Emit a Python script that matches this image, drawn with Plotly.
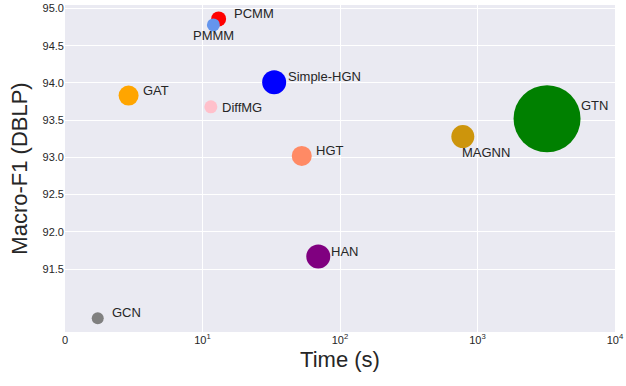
import numpy as np
import plotly.graph_objects as go

models = ["PCMM", "PMMM", "GAT", "DiffMG", "Simple-HGN", "HGT", "HAN", "GCN", "MAGNN", "GTN"]
times = [13.1, 12.0, 2.9, 11.5, 33.2, 52.7, 69.5, 1.73, 782, 3205]
f1 = [94.86, 94.78, 93.83, 93.68, 94.01, 93.02, 91.67, 90.84, 93.28, 93.52]
bubble = [15, 13, 20, 13, 24, 20, 24, 12, 23, 67]
colors = ["#FF0000", "#6495ED", "#FFA500", "#FFC0CB", "#0000FF", "#FF8A65",
          "#800080", "#808080", "#CD950C", "#008000"]
# label offsets (px): xshift, yshift, xanchor
offsets = {
    "PCMM": (13, 5, "left"),
    "PMMM": (0, -11, "center"),
    "GAT": (12, 5, "left"),
    "DiffMG": (9, -1, "left"),
    "Simple-HGN": (12, 6, "left"),
    "HGT": (12, 5, "left"),
    "HAN": (11, 5, "left"),
    "GCN": (12, 6, "left"),
    "MAGNN": (-3, -16, "left"),
    "GTN": (32, 13, "left"),
}

x_tickvals = [1, 10, 100, 1000, 10000]
x_ticktext = ["0", "10<sup>1</sup>", "10<sup>2</sup>", "10<sup>3</sup>", "10<sup>4</sup>"]
y_tickvals = [91.5, 92.0, 92.5, 93.0, 93.5, 94.0, 94.5, 95.0]

fig = go.Figure()
fig.add_trace(go.Scatter(
    x=times, y=f1, mode="markers",
    marker=dict(size=bubble, color=colors, opacity=1, line=dict(width=0)),
    showlegend=False, hoverinfo="text", text=models,
))

for m, t, v in zip(models, times, f1):
    xs, ys, xa = offsets[m]
    fig.add_annotation(x=np.log10(t), y=v, xref="x", yref="y", text=m,
                       showarrow=False, xanchor=xa, yanchor="middle",
                       xshift=xs, yshift=ys,
                       font=dict(family="Liberation Sans, Arial", size=13, color="#262626"))

fig.update_layout(
    width=626, height=386,
    margin=dict(l=65, r=10, t=2, b=54),
    paper_bgcolor="white", plot_bgcolor="#EAEAF2",
    font=dict(family="Liberation Sans, Arial", color="#262626"),
    xaxis=dict(type="log", range=[0, 4], tickvals=x_tickvals, ticktext=x_ticktext,
               showgrid=True, gridcolor="white", gridwidth=1, zeroline=False,
               showline=False, ticks="", tickfont=dict(size=11),
               ticklabeloverflow="allow",
               title=dict(text="Time (s)", font=dict(size=22), standoff=6)),
    yaxis=dict(range=[90.655, 95.047], tickvals=y_tickvals,
               ticktext=[f"{v:.1f}" for v in y_tickvals],
               showgrid=True, gridcolor="white", gridwidth=1, zeroline=False,
               showline=False, ticks="", tickfont=dict(size=11),
               ticklabeloverflow="allow",
               title=dict(text="Macro-F1 (DBLP)", font=dict(size=22), standoff=8)),
)

fig.write_html("out.html")
